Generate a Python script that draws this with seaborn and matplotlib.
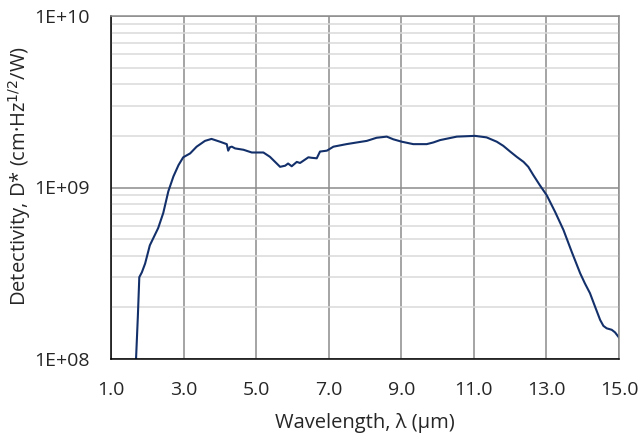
import numpy as np
import pandas as pd
import matplotlib
matplotlib.use("Agg")
import matplotlib.pyplot as plt
import matplotlib.ticker as mticker
import seaborn as sns

# Wavelength (um)
wavelength = [1.69, 1.74, 1.78, 1.85, 1.94, 2.07, 2.30, 2.44, 2.58, 2.72, 2.86, 2.99,
              3.18, 3.36, 3.59, 3.77, 4.00, 4.19, 4.23, 4.28, 4.33, 4.42, 4.65, 4.88,
              5.20, 5.38, 5.66, 5.80, 5.88, 5.98, 6.12, 6.21, 6.44, 6.53, 6.67, 6.76,
              6.95, 7.13, 7.49, 7.77, 8.05, 8.32, 8.60, 8.78, 9.01, 9.33, 9.70, 9.88,
              10.07, 10.53, 11.03, 11.35, 11.63, 11.81, 12.00, 12.18, 12.37, 12.50,
              12.64, 12.82, 13.01, 13.24, 13.47, 13.70, 13.93, 14.06, 14.20, 14.34,
              14.48, 14.57, 14.66, 14.80, 14.89, 15.04]
# Detectivity D* (cm Hz^1/2 / W)
detectivity = [1.0e8, 1.77e8, 3.0e8, 3.2e8, 3.6e8, 4.6e8, 5.8e8, 7.1e8, 9.5e8, 1.16e9,
               1.35e9, 1.50e9, 1.58e9, 1.73e9, 1.87e9, 1.92e9, 1.85e9, 1.79e9, 1.64e9,
               1.72e9, 1.73e9, 1.69e9, 1.66e9, 1.60e9, 1.60e9, 1.51e9, 1.32e9, 1.34e9,
               1.38e9, 1.33e9, 1.41e9, 1.39e9, 1.50e9, 1.49e9, 1.48e9, 1.62e9, 1.64e9,
               1.73e9, 1.79e9, 1.83e9, 1.87e9, 1.95e9, 1.98e9, 1.91e9, 1.85e9, 1.79e9,
               1.79e9, 1.83e9, 1.89e9, 1.98e9, 2.00e9, 1.96e9, 1.85e9, 1.75e9, 1.62e9,
               1.51e9, 1.41e9, 1.32e9, 1.18e9, 1.03e9, 9.0e8, 7.2e8, 5.65e8, 4.2e8,
               3.16e8, 2.76e8, 2.42e8, 2.02e8, 1.69e8, 1.56e8, 1.51e8, 1.48e8, 1.43e8,
               1.30e8]

x_ticks = [1.0, 3.0, 5.0, 7.0, 9.0, 11.0, 13.0, 15.0]
y_ticks = [1e8, 1e9, 1e10]
y_ticklabels = ["1E+08", "1E+09", "1E+10"]

df = pd.DataFrame({"wl": wavelength, "D": detectivity})

sns.set_style("white")
plt.rcParams["font.family"] = ["Open Sans", "DejaVu Sans"]

fig = plt.figure(figsize=(6.43, 4.34), dpi=100)
ax = fig.add_axes([111 / 643, 1 - 359 / 434, 508 / 643, 343 / 434])

ax.set_yscale("log")
ax.set_xlim(1.0, 15.0)
ax.set_ylim(1e8, 1e10)

ax.set_xticks(x_ticks)
ax.set_xticklabels([f"{v:.1f}" for v in x_ticks])
ax.set_yticks(y_ticks)
ax.set_yticklabels(y_ticklabels)
ax.yaxis.set_minor_locator(mticker.LogLocator(base=10, subs=np.arange(2, 10)))
ax.yaxis.set_minor_formatter(mticker.NullFormatter())

ax.grid(True, which="major", axis="both", color="#8c8c8c", linewidth=1.1)
ax.grid(True, which="minor", axis="y", color="#dadada", linewidth=1.1)
ax.set_axisbelow(True)

sns.lineplot(data=df, x="wl", y="D", ax=ax, color="#13306b", linewidth=1.5)

for s in ["top", "right"]:
    ax.spines[s].set_color("#8c8c8c")
    ax.spines[s].set_linewidth(1.1)
for s in ["left", "bottom"]:
    ax.spines[s].set_color("black")
    ax.spines[s].set_linewidth(1.1)

ax.tick_params(axis="both", which="major", direction="out", length=5, width=1.1,
               color="black", labelsize=14)
ax.tick_params(axis="x", which="major", pad=11)
ax.tick_params(axis="y", which="major", pad=10)
ax.tick_params(axis="y", which="minor", length=0)

ax.set_xlabel("Wavelength, λ (µm)", fontsize=14.5, labelpad=10)
ax.set_ylabel("Detectivity, D* (cm·Hz$^{1/2}$/W)", fontsize=14.5, labelpad=1)
ax.yaxis.label.set_y(0.533)

fig.savefig("out.png", dpi=100)
